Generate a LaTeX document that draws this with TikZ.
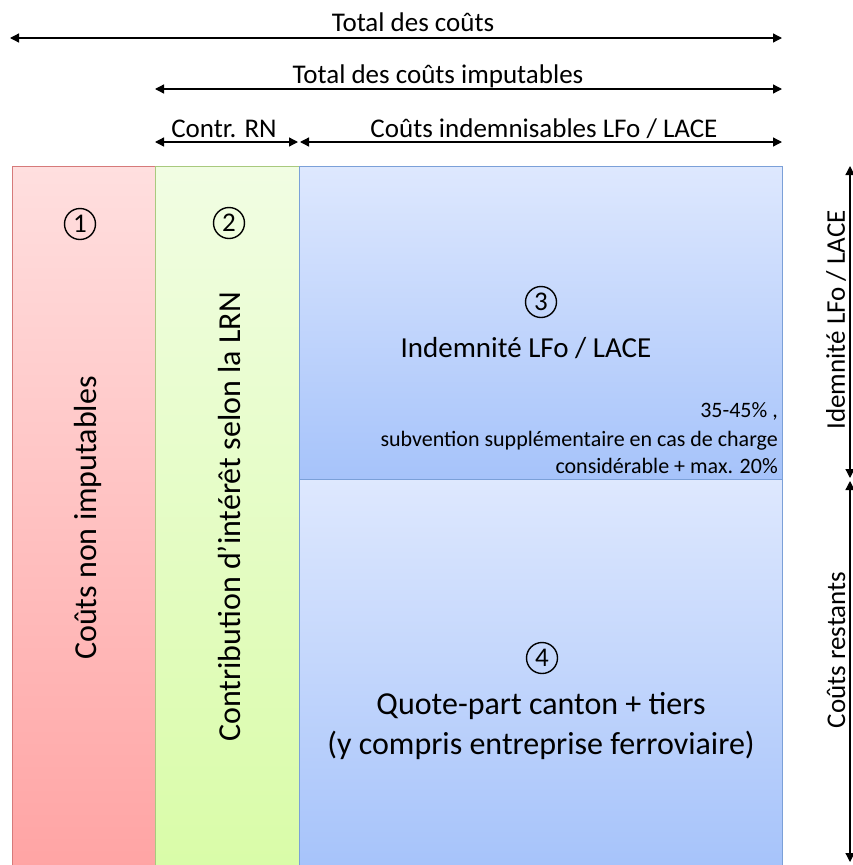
\documentclass[tikz,border=0pt]{standalone}
\usepackage{fontspec}
\setmainfont{Carlito}
\usetikzlibrary{arrows.meta}
\definecolor{redtop}{HTML}{FFDFDF}
\definecolor{redbot}{HTML}{FFA4A4}
\definecolor{redline}{HTML}{D67A7A}
\definecolor{greentop}{HTML}{F1FDE3}
\definecolor{greenbot}{HTML}{D9FCA8}
\definecolor{greenline}{HTML}{A9C97E}
\definecolor{bluetop}{HTML}{DEE8FE}
\definecolor{bluebot}{HTML}{A6C3FA}
\definecolor{blueline}{HTML}{7BA0D8}
\begin{document}
\begin{tikzpicture}[x=1pt,y=-1pt,
  dim/.style={{Triangle[length=9pt,width=9pt]}-{Triangle[length=9pt,width=9pt]},line width=1.3pt},
  lbl/.style={font=\fontsize{27}{32}\selectfont,inner sep=0pt,anchor=base},
  big/.style={font=\fontsize{32}{40}\selectfont,inner sep=0pt,anchor=base},
  num/.style={circle,draw,line width=1.4pt,minimum size=31pt,inner sep=0pt,font=\fontsize{27}{27}\selectfont},
  note/.style={font=\fontsize{22}{27.5}\selectfont,inner sep=0pt,anchor=base east}]
\useasboundingbox (0,0) rectangle (853,865);
% columns
\shade[top color=redtop,bottom color=redbot] (12,166) rectangle (155,868);
\draw[redline,line width=0.8pt] (12,868) -- (12,166) -- (155,166) -- (155,868);
\shade[top color=greentop,bottom color=greenbot] (155,166) rectangle (299,868);
\draw[greenline,line width=0.8pt] (155,868) -- (155,166) -- (299,166) -- (299,868);
\shade[top color=bluetop,bottom color=bluebot] (299,166) rectangle (782,479);
\draw[blueline,line width=0.8pt] (299,166) rectangle (782,479);
\shade[top color=bluetop,bottom color=bluebot] (299,479) rectangle (782,868);
\draw[blueline,line width=0.8pt] (299,868) -- (299,479) -- (782,479) -- (782,868);
% dimension arrows on top
\coordinate (t1l) at (10,38);  \coordinate (t1r) at (782,38);
\coordinate (t2l) at (155,89); \coordinate (t2r) at (782,89);
\coordinate (t3l) at (155,142); \coordinate (t3m) at (298,142);
\coordinate (t4l) at (300,142); \coordinate (t4r) at (782,142);
\draw[dim] (t1l) -- (t1r); \node[lbl] (total) at (413,31) {Total des coûts};
\draw[dim] (t2l) -- (t2r); \node[lbl] (imput) at (438,83) {Total des coûts imputables};
\draw[dim] (t3l) -- (t3m); \node[lbl] (contr) at (224,137) {Contr. RN};
\draw[dim] (t4l) -- (t4r); \node[lbl] (indem) at (544,137) {Coûts indemnisables LFo / LACE};
% dimension arrows on the right
\coordinate (r1t) at (850,166); \coordinate (r1b) at (850,478);
\coordinate (r2t) at (850,481); \coordinate (r2b) at (850,862);
\draw[dim] (r1t) -- (r1b); \node[lbl,anchor=center,rotate=90] (ridem) at (836,320) {Idemnité LFo / LACE};
\draw[dim] (r2t) -- (r2b); \node[lbl,anchor=center,rotate=90] (rrest) at (836,650) {Coûts restants};
% column texts
\node[num] (n1) at (80,224) {1};
\node[num] (n2) at (229,223) {2};
\node[big,anchor=center,rotate=90] (nonimp) at (88,518) {Coûts non imputables};
\node[big,anchor=center,rotate=90] (lrn) at (229,517) {Contribution d’intérêt selon la LRN};
\node[num] (n3) at (541,302) {3};
\node[lbl,font=\fontsize{29}{34}\selectfont] (lface) at (526,357) {Indemnité LFo / LACE};
\node[note] (p1) at (778,417) {35-45\% ,};
\node[note] (p2) at (778,446) {subvention supplémentaire en cas de charge};
\node[note] (p3) at (778,473) {considérable + max. 20\%};
\node[num] (n4) at (542,658) {4};
\node[big] (quote) at (541,714) {Quote-part canton + tiers};
\node[big] (ycomp) at (541,754) {(y compris entreprise ferroviaire)};
\end{tikzpicture}
\end{document}
